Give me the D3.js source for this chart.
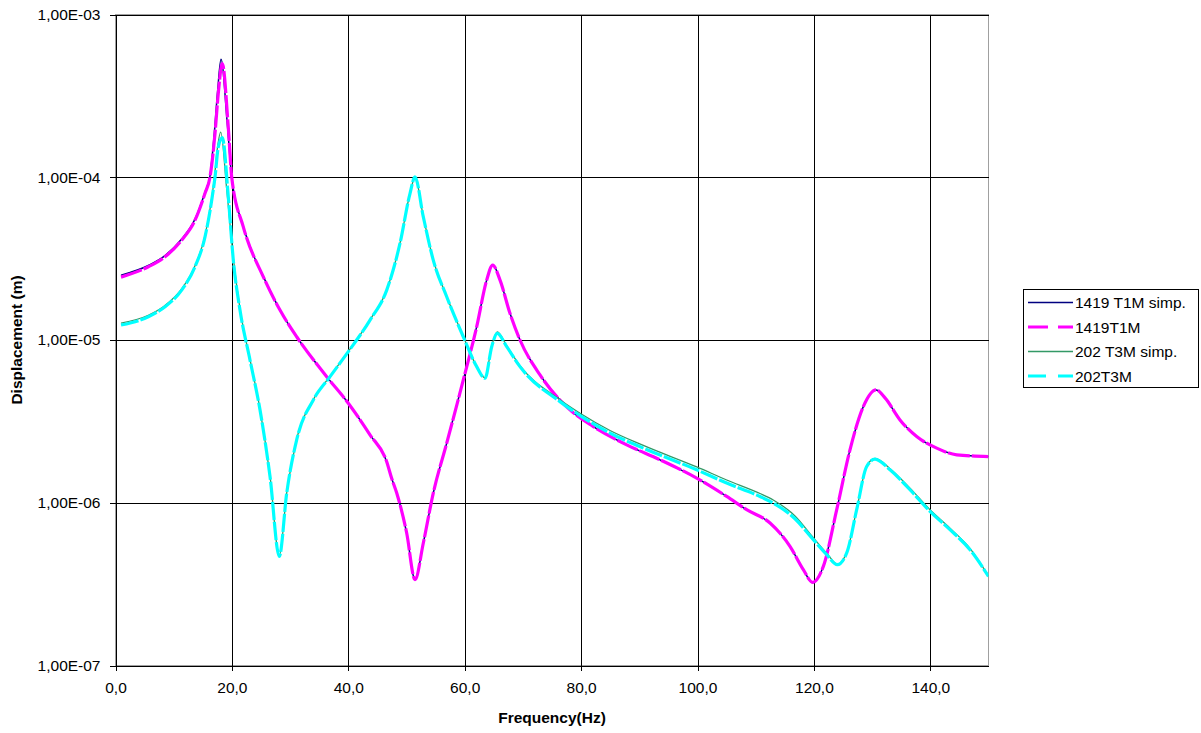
<!DOCTYPE html>
<html>
<head>
<meta charset="utf-8">
<script src="https://cdn.jsdelivr.net/npm/d3@7"></script>
<style>
  html, body { margin: 0; padding: 0; background: #ffffff; }
  svg { display: block; }
  text { font-family: "Liberation Sans", Arial, sans-serif; fill: #000; }
</style>
</head>
<body>
<script>
// ---------- data ----------
const seriesNames = ["1419 T1M simp.", "1419T1M", "202 T3M simp.", "202T3M"];
const xTicks = [0, 20, 40, 60, 80, 100, 120, 140];
const yTicks = [1e-7, 1e-6, 1e-5, 1e-4, 1e-3];

const freq1419simp = [0.95, 5.64, 8.51, 11.37, 13.66, 15.38, 16.24, 17.0, 17.55, 18.13, 19.2, 19.97, 21.96, 25.40, 28.26, 31.13, 36.29, 40.0, 43.73, 46.60, 47.42, 48.32, 50.03, 51.46, 52.89, 54.60, 56.91, 59.76, 62.06, 63.78, 64.81, 66.07, 67.78, 69.50, 72.94, 78.09, 82.10, 87.84, 93.56, 99.86, 105.02, 108.45, 112.46, 115.89, 118.18, 119.79, 121.62, 123.92, 126.20, 128.49, 130.67, 132.22, 134.79, 137.66, 141.10, 144.54, 150];
const val1419simp = [2.50e-5, 2.87e-5, 3.30e-5, 4.17e-5, 5.53e-5, 8.10e-5, 1.02e-4, 1.90e-4, 3.40e-4, 5.30e-4, 2.15e-4, 1.0e-4, 4.96e-5, 2.45e-5, 1.528e-5, 1.047e-5, 5.954e-6, 4.09e-6, 2.614e-6, 1.784e-6, 1.423e-6, 1.147e-6, 6.52e-7, 3.37e-7, 5.66e-7, 1.147e-6, 2.324e-6, 5.683e-6, 1.207e-5, 2.34e-5, 2.90e-5, 2.34e-5, 1.458e-5, 1.0e-5, 6.1e-6, 3.72e-6, 2.939e-6, 2.269e-6, 1.836e-6, 1.417e-6, 1.093e-6, 9.06e-7, 7.51e-7, 5.395e-7, 3.88e-7, 3.22e-7, 4.067e-7, 9.06e-7, 2.114e-6, 3.897e-6, 4.935e-6, 4.408e-6, 3.23e-6, 2.551e-6, 2.166e-6, 1.97e-6, 1.923e-6];

const freq1419 = [0.95, 5.64, 8.51, 11.37, 13.66, 15.38, 16.24, 17.10, 17.66, 18.35, 19.38, 19.97, 21.96, 25.40, 28.26, 31.13, 36.29, 40.0, 43.73, 46.60, 47.42, 48.32, 50.03, 51.46, 52.89, 54.60, 56.91, 59.76, 62.06, 63.78, 64.81, 66.07, 67.78, 69.50, 72.94, 78.09, 82.10, 87.84, 93.56, 99.86, 105.02, 108.45, 112.46, 115.89, 118.18, 119.79, 121.62, 123.92, 126.20, 128.49, 130.67, 132.22, 134.79, 137.66, 141.10, 144.54, 150];
const val1419 = [2.435e-5, 2.817e-5, 3.243e-5, 4.107e-5, 5.447e-5, 7.976e-5, 1.004e-4, 1.862e-4, 3.276e-4, 4.984e-4, 2.026e-4, 1.0e-4, 4.956e-5, 2.445e-5, 1.528e-5, 1.047e-5, 5.954e-6, 4.09e-6, 2.614e-6, 1.784e-6, 1.423e-6, 1.147e-6, 6.52e-7, 3.37e-7, 5.66e-7, 1.147e-6, 2.324e-6, 5.683e-6, 1.207e-5, 2.334e-5, 2.885e-5, 2.334e-5, 1.458e-5, 1.0e-5, 6.1e-6, 3.72e-6, 2.939e-6, 2.269e-6, 1.836e-6, 1.417e-6, 1.093e-6, 9.06e-7, 7.51e-7, 5.395e-7, 3.88e-7, 3.243e-7, 4.067e-7, 9.06e-7, 2.114e-6, 3.897e-6, 4.935e-6, 4.408e-6, 3.23e-6, 2.551e-6, 2.166e-6, 1.97e-6, 1.923e-6];

const freq202simp = [0.95, 5.64, 8.51, 11.37, 13.66, 15.38, 16.53, 17.0, 17.5, 18.08, 19.1, 20.24, 21.39, 23.11, 24.83, 26.55, 28.14, 29.42, 31.13, 33.99, 36.86, 40.0, 43.73, 46.60, 48.88, 50.60, 51.46, 52.89, 54.60, 56.91, 59.76, 62.06, 63.49, 64.64, 65.60, 67.22, 69.50, 76.37, 80.10, 84.97, 90.69, 99.86, 105.02, 110.74, 113.02, 116.75, 119.90, 122.20, 124.02, 125.64, 127.35, 129.07, 130.50, 133.08, 136.51, 139.95, 143.38, 146.82, 150];
const val202simp = [1.27e-5, 1.42e-5, 1.63e-5, 2.06e-5, 2.86e-5, 4.38e-5, 7.4e-5, 1.0e-4, 1.5e-4, 1.896e-4, 8.5e-5, 3.2e-5, 1.55e-5, 7.6e-6, 3.75e-6, 1.46e-6, 4.7e-7, 1.15e-6, 2.45e-6, 4.3e-6, 5.98e-6, 8.5e-6, 1.33e-5, 2.03e-5, 3.93e-5, 7.95e-5, 1.0e-4, 5.72e-5, 3.1e-5, 1.85e-5, 1.05e-5, 6.88e-6, 5.85e-6, 9.2e-6, 1.12e-5, 9.2e-6, 6.95e-6, 4.3e-6, 3.5e-6, 2.78e-6, 2.25e-6, 1.66e-6, 1.38e-6, 1.14e-6, 1.04e-6, 8.3e-7, 6.1e-7, 4.9e-7, 4.2e-7, 4.95e-7, 9.1e-7, 1.68e-6, 1.87e-6, 1.62e-6, 1.23e-6, 9.05e-7, 6.98e-7, 5.25e-7, 3.55e-7];

const freq202 = [0.95, 5.64, 8.51, 11.37, 13.66, 15.38, 16.53, 17.10, 17.66, 18.35, 19.38, 20.24, 21.39, 23.11, 24.83, 26.55, 28.14, 29.42, 31.13, 33.99, 36.86, 40.0, 43.73, 46.60, 48.88, 50.60, 51.46, 52.89, 54.60, 56.91, 59.76, 62.06, 63.49, 64.64, 65.60, 67.22, 69.50, 76.37, 80.10, 84.97, 90.69, 99.86, 105.02, 110.74, 113.02, 116.75, 119.90, 122.20, 124.02, 125.64, 127.35, 129.07, 130.50, 133.08, 136.51, 139.95, 143.38, 146.82, 150];
const val202 = [1.236e-5, 1.39e-5, 1.601e-5, 2.026e-5, 2.817e-5, 4.302e-5, 7.224e-5, 1.004e-4, 1.534e-4, 1.752e-4, 7.569e-5, 3.096e-5, 1.528e-5, 7.54e-6, 3.72e-6, 1.45e-6, 4.685e-7, 1.147e-6, 2.435e-6, 4.284e-6, 5.954e-6, 8.477e-6, 1.326e-5, 2.026e-5, 3.92e-5, 7.943e-5, 1.004e-4, 5.706e-5, 3.096e-5, 1.843e-5, 1.047e-5, 6.859e-6, 5.821e-6, 9.096e-6, 1.099e-5, 9.096e-6, 6.859e-6, 4.183e-6, 3.383e-6, 2.677e-6, 2.166e-6, 1.594e-6, 1.321e-6, 1.093e-6, 9.96e-7, 7.976e-7, 5.93e-7, 4.797e-7, 4.165e-7, 4.914e-7, 9.06e-7, 1.67e-6, 1.854e-6, 1.594e-6, 1.202e-6, 8.845e-7, 6.83e-7, 5.148e-7, 3.53e-7];

// ---------- layout ----------
const W = 1201, H = 733;
const plot = { left: 115.5, right: 988.5, top: 14.5, bottom: 665.5 };

const svg = d3.select("body").append("svg").attr("width", W).attr("height", H);

const x = d3.scaleLinear().domain([0, 150]).range([plot.left, plot.right]);
const y = d3.scaleLog().domain([1e-7, 1e-3]).range([plot.bottom, plot.top]);

// plot border (grey, top & right)
svg.append("rect")
  .attr("x", plot.left).attr("y", plot.top)
  .attr("width", plot.right - plot.left).attr("height", plot.bottom - plot.top)
  .attr("fill", "none").attr("stroke", "#a0a0a0").attr("stroke-width", 1);

// gridlines
const grid = svg.append("g").attr("stroke", "#000").attr("stroke-width", 1).attr("shape-rendering", "crispEdges");
grid.selectAll("line.gy").data(yTicks.slice(1)).enter().append("line")
  .attr("x1", plot.left).attr("x2", plot.right)
  .attr("y1", d => Math.round(y(d)) + 0.5).attr("y2", d => Math.round(y(d)) + 0.5);
grid.selectAll("line.gx").data(xTicks.slice(1)).enter().append("line")
  .attr("y1", plot.top).attr("y2", plot.bottom)
  .attr("x1", d => Math.round(x(d)) + 0.5).attr("x2", d => Math.round(x(d)) + 0.5);

// axes
const fmtY = v => {
  const s = v.toExponential(2);
  const [m, e] = s.split("e");
  const ei = parseInt(e, 10);
  const es = (ei < 0 ? "-" : "+") + String(Math.abs(ei)).padStart(2, "0");
  return m.replace(".", ",") + "E" + es;
};
const fmtX = v => v.toFixed(1).replace(".", ",");

const yAxis = svg.append("g")
  .attr("transform", `translate(${plot.left},0)`)
  .call(d3.axisLeft(y).tickValues(yTicks).tickFormat(fmtY).tickSize(6).tickPadding(9));
const xAxis = svg.append("g")
  .attr("transform", `translate(0,${plot.bottom})`)
  .call(d3.axisBottom(x).tickValues(xTicks).tickFormat(fmtX).tickSize(5).tickPadding(11));

[yAxis, xAxis].forEach(a => {
  a.select(".domain").attr("stroke", "#000").attr("stroke-width", 1).attr("shape-rendering", "crispEdges");
  a.selectAll(".tick line").attr("stroke", "#000").attr("shape-rendering", "crispEdges");
  a.selectAll(".tick text").style("font-size", "15.5px").style("font-family", "'Liberation Sans', Arial, sans-serif").attr("fill", "#000");
});
yAxis.select(".domain").attr("d", `M0.5,${plot.top}V${plot.bottom}`);
xAxis.select(".domain").attr("d", `M${plot.left},0.5H${plot.right}`);

// axis titles
svg.append("text")
  .attr("x", (plot.left + plot.right) / 2).attr("y", 723)
  .attr("text-anchor", "middle")
  .style("font-size", "15.5px").style("font-weight", "bold")
  .text("Frequency(Hz)");
svg.append("text")
  .attr("transform", `translate(22,${(plot.top + plot.bottom) / 2}) rotate(-90)`)
  .attr("text-anchor", "middle")
  .style("font-size", "15.5px").style("font-weight", "bold")
  .text("Displacement (m)");

// series
const series = [
  { name: seriesNames[0], f: freq1419simp, v: val1419simp, color: "#000080", width: 1.5, dash: null },
  { name: seriesNames[1], f: freq1419, v: val1419, color: "#ff00ff", width: 3.2, dash: "22,2" },
  { name: seriesNames[2], f: freq202simp, v: val202simp, color: "#339966", width: 1.3, dash: null },
  { name: seriesNames[3], f: freq202, v: val202, color: "#00ffff", width: 3.2, dash: "18,2" }
];

const line = d3.line().x(d => x(d[0])).y(d => y(d[1])).curve(d3.curveMonotoneX);

svg.append("clipPath").attr("id", "clip").append("rect")
  .attr("x", plot.left).attr("y", plot.top)
  .attr("width", plot.right - plot.left).attr("height", plot.bottom - plot.top);

const gLines = svg.append("g").attr("clip-path", "url(#clip)");
series.forEach(s => {
  const pts = s.f.map((f, i) => [f, s.v[i]]);
  gLines.append("path")
    .attr("d", line(pts))
    .attr("fill", "none")
    .attr("stroke", s.color)
    .attr("stroke-width", s.width)
    .attr("stroke-linejoin", "round")
    .attr("stroke-dasharray", s.dash);
});

// legend
const lg = svg.append("g");
lg.append("rect")
  .attr("x", 1023.5).attr("y", 289.5).attr("width", 175).attr("height", 98)
  .attr("fill", "#fff").attr("stroke", "#000").attr("stroke-width", 1);
series.forEach((s, i) => {
  const yy = 302.5 + i * 24.5;
  lg.append("line")
    .attr("x1", 1028).attr("x2", 1073).attr("y1", yy).attr("y2", yy)
    .attr("stroke", s.color).attr("stroke-width", s.width)
    .attr("stroke-dasharray", s.dash ? (i === 1 ? "20,10" : "18,12") : null);
  lg.append("text")
    .attr("x", 1075).attr("y", yy).attr("dy", "0.36em")
    .style("font-size", "15.5px")
    .text(s.name);
});
</script>
</body>
</html>
